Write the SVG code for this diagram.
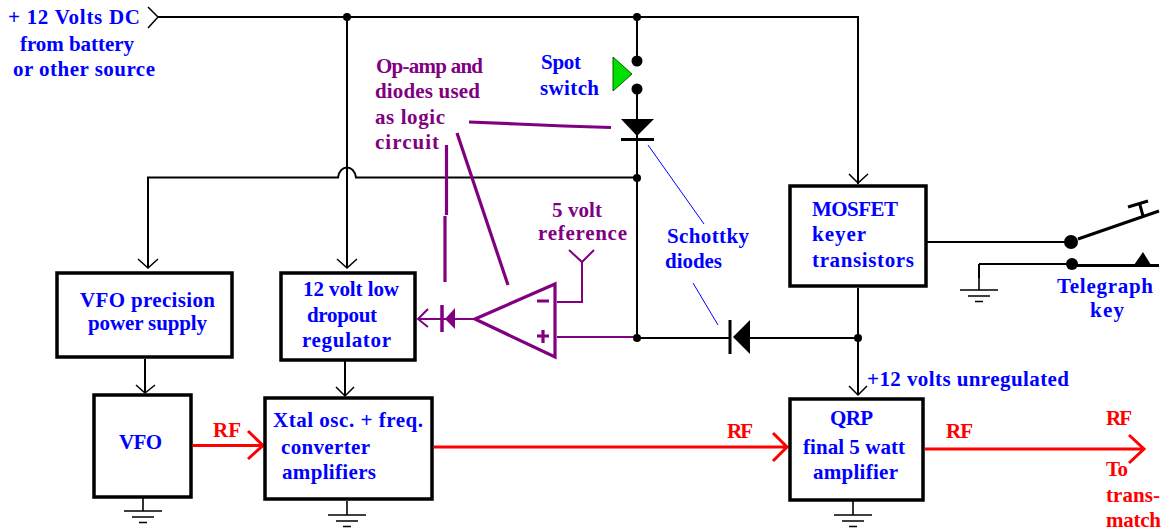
<svg xmlns="http://www.w3.org/2000/svg" width="1163" height="531" viewBox="0 0 1163 531">
<style>
text{font-family:"Liberation Serif","DejaVu Serif",serif;font-weight:bold;font-size:21px;text-anchor:start}
.b{fill:#0000ff}.p{fill:#800080}.r{fill:#ff0000}
.w{fill:none;stroke:#000;stroke-width:2}
.box{fill:#fff;stroke:#000;stroke-width:3.5}
.pw{fill:none;stroke:#800080;stroke-width:2}
.pt{fill:none;stroke:#800080;stroke-width:3.2}
.rf{fill:none;stroke:#ff0000;stroke-width:3}
.bl{fill:none;stroke:#0000ff;stroke-width:1}
.a{fill:none;stroke:#000;stroke-width:1.5}
.g{fill:none;stroke:#000;stroke-width:1.6}
</style>
<defs>
<g id="gnd"><path class="g" d="M0 0V14M-19 14H19M-11 20H11M-4 25.500H4"/></g>
</defs>
<g id="connectors">
<path class="a" d="M148 7L158 17L148 28"/>
<path class="w" d="M158 17H858V184M347 17V268M637 17V61M637 89V338M148 268V177.500H338C340 164 354 164 356 177.500H637M145 359V393M345 361V396M858 288V395M926 242H1071M979 264H1071M979 264V278M637 338H730M750 338H858"/>
<path class="a" d="M138 259L148 268L158 259M337 259L347 268L357 259M136 385L145 393L155 385M336 387L345 396L354 387M849 174L858 183L868 174M849 386L858 395L867 386"/>
<use href="#gnd" x="143" y="497"/><use href="#gnd" x="347" y="501"/><use href="#gnd" x="853" y="501"/><use href="#gnd" x="979" y="276"/>
<path class="rf" d="M193 445.500H263M248 431L263 445.500L248 459M434 447H787M773 433L787 447L773 461M925 449H1144M1129 435L1144 449L1129 463"/>
<path class="pw" d="M557 302H582V262M569 250L582 262L594 250M557 337H637M418 319H474M428 309L418 319L428 327"/>
<path class="pt" d="M469 122L517 124L564 126L611 127.500M446.500 145V215M445 216V282M457 133L508 285"/>
<path class="bl" d="M648 145L704 224M693 283L718 325"/>
</g>
<g id="spot-switch">
<circle cx="637" cy="61" r="5.500"/><circle cx="637" cy="89" r="5.500"/>
<path d="M613 57L632 74L613 91Z" fill="#00e000" stroke="#006000"/>
</g>
<g id="schottky-top"><path d="M621 119H654L637 136Z"/><path d="M621 139.500H654" stroke="#000" stroke-width="3"/></g>
<g id="schottky-bottom"><path d="M750 320V354L733 337Z"/><path d="M730 320V354" stroke="#000" stroke-width="3"/></g>
<g id="logic-diode"><path d="M455 308V329L445 319Z" fill="#800080"/><path d="M442 305V332" stroke="#800080" stroke-width="3.500"/></g>
<g id="opamp"><path class="pt" d="M475 319L555 284V357Z" fill="#fff"/><path class="pt" d="M537 301H549M537 336H549M543 330V343"/></g>
<g id="junctions"><circle cx="347" cy="17" r="4"/><circle cx="637" cy="17" r="4"/><circle cx="637" cy="178" r="4"/><circle cx="637" cy="338" r="4"/><circle cx="858" cy="338" r="4"/></g>
<g id="key">
<circle cx="1071" cy="242" r="7"/><circle cx="1072" cy="264" r="6"/>
<path d="M1078 239L1159 211M1143 216L1140 205M1128 207L1148 201M1072 265.500H1159" stroke="#000" stroke-width="3" fill="none"/>
<path d="M1134 265L1143 252L1151 265Z"/>
</g>
<g id="vfo-supply"><rect class="box" x="57" y="273" width="175" height="84"/><text class="b" x="80" y="307" textLength="135">VFO precision</text><text class="b" x="88" y="330" textLength="119">power supply</text></g>
<g id="regulator"><rect class="box" x="281" y="273" width="134" height="87"/><text class="b" x="303" y="296" textLength="96">12 volt low</text><text class="b" x="307" y="322" textLength="70">dropout</text><text class="b" x="302" y="347" textLength="89">regulator</text></g>
<g id="mosfet"><rect class="box" x="790" y="186" width="136" height="100"/><text class="b" x="812" y="216" textLength="86">MOSFET</text><text class="b" x="812" y="241" textLength="54">keyer</text><text class="b" x="812" y="267" textLength="102">transistors</text></g>
<g id="vfo"><rect class="box" x="94" y="395" width="97" height="102"/><text class="b" x="119" y="449" textLength="43">VFO</text></g>
<g id="converter"><rect class="box" x="265" y="398" width="167" height="101"/><text class="b" x="273" y="427" textLength="150">Xtal osc.  + freq.</text><text class="b" x="281" y="454" textLength="89">converter</text><text class="b" x="282" y="479" textLength="94">amplifiers</text></g>
<g id="qrp"><rect class="box" x="790" y="399" width="133" height="101"/><text class="b" x="830" y="425" textLength="43">QRP</text><text class="b" x="803" y="454" textLength="102">final 5 watt</text><text class="b" x="813" y="479" textLength="85">amplifier</text></g>
<g id="labels">
<text class="b" x="8" y="24" textLength="132">+ 12 Volts DC</text><text class="b" x="20" y="51" textLength="114">from battery</text><text class="b" x="13" y="76" textLength="142">or other source</text>
<text class="p" x="376" y="73" textLength="107">Op-amp and</text><text class="p" x="375" y="98" textLength="105">diodes used</text><text class="p" x="375" y="124" textLength="70">as logic</text><text class="p" x="375" y="149" textLength="64">circuit</text>
<text class="b" x="541" y="69" textLength="40">Spot</text><text class="b" x="540" y="95" textLength="59">switch</text>
<text class="p" x="552" y="217" textLength="50">5 volt</text><text class="p" x="538" y="240" textLength="89">reference</text>
<text class="b" x="667" y="243" textLength="82">Schottky</text><text class="b" x="665" y="268" textLength="57">diodes</text>
<text class="b" x="1057" y="293" textLength="96">Telegraph</text><text class="b" x="1090" y="317" textLength="34">key</text>
<text class="b" x="867" y="386" textLength="202">+12 volts unregulated</text>
<text class="r" x="213" y="437" textLength="28">RF</text><text class="r" x="727" y="438" textLength="26">RF</text><text class="r" x="946" y="438" textLength="27">RF</text><text class="r" x="1106" y="425" textLength="26">RF</text>
<text class="r" x="1106" y="476" textLength="22">To</text><text class="r" x="1106" y="502" textLength="54">trans-</text><text class="r" x="1106" y="527" textLength="55">match</text>
</g>
</svg>
